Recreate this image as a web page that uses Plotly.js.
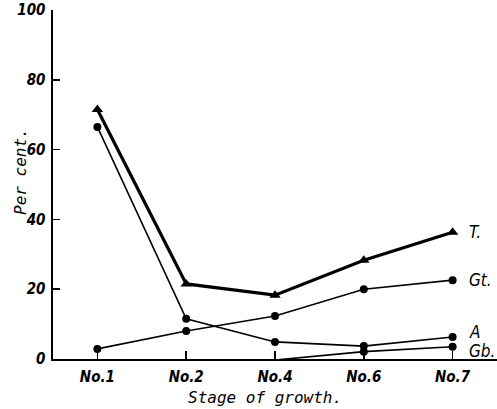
<!DOCTYPE html>
<html><head><meta charset="utf-8">
<script src="https://cdn.plot.ly/plotly-3.0.1.min.js"></script>
<style>html,body{margin:0;padding:0;background:#fff;}#c{width:497px;height:409px;}</style>
</head><body><div id="c"></div>
<script>
const stages = ["No.1", "No.2", "No.4", "No.6", "No.7"];
const T  = [71.5, 21.5, 18.3, 28.3, 36.3];
const Gt = [2.9, 8.0, 12.3, 20.0, 22.6];
const A  = [66.5, 11.5, 4.9, 3.7, 6.3];
const Gb = [null, null, -0.3, 2.1, 3.5];
const seriesLabels = ["T.", "Gt.", "A", "Gb."];
const yTicks = [0, 20, 40, 60, 80, 100];
const xTitle = "Stage of growth.";
const yTitle = "Per cent.";

const tickFont = {family: "Liberation Sans Narrow, DejaVu Sans Condensed, Liberation Sans", size: 15, color: "#000", style: "italic", weight: "bold"};
const titleFont = {family: "DejaVu Sans Mono, Liberation Mono", size: 16, color: "#000", style: "italic"};

const traces = [
  {x: stages, y: T, mode: "lines+markers", line: {color: "#000", width: 3.2}, marker: {symbol: "triangle-up", size: 10, color: "#000", opacity: 1}},
  {x: stages, y: Gt, mode: "lines+markers", line: {color: "#000", width: 1.6}, marker: {symbol: "circle", size: 8, color: "#000", opacity: 1}},
  {x: stages, y: A, mode: "lines+markers", line: {color: "#000", width: 1.6}, marker: {symbol: "circle", size: 8, color: "#000", opacity: 1}},
  {x: stages, y: Gb, mode: "lines+markers", line: {color: "#000", width: 1.6}, marker: {symbol: "circle", size: [0, 0, 0, 8, 8], color: "#000", opacity: 1, line: {width: 0}}, cliponaxis: false}
];

const lastVals = [T[4], Gt[4], A[4], Gb[4]];
const labelShiftY = [0, 0, 5, -4];
const annotations = seriesLabels.map((s, i) => ({
  x: stages[4], y: lastVals[i], xref: "x", yref: "y", text: s, showarrow: false,
  xanchor: "left", yanchor: "middle", xshift: 14, yshift: labelShiftY[i],
  font: {family: "Liberation Sans Narrow, DejaVu Sans Condensed, Liberation Sans", size: 17, color: "#000", style: "italic"}
}));
// axis titles placed as annotations (paper coords) to match the reference positions
annotations.push({
  text: yTitle, xref: "paper", yref: "paper", x: -33 / 444, y: (359 - 172) / 349,
  xanchor: "center", yanchor: "middle", textangle: -90, showarrow: false, font: titleFont
});
annotations.push({
  text: xTitle, xref: "paper", yref: "paper", x: (265 - 53) / 444, y: -(397 - 359) / 349,
  xanchor: "center", yanchor: "middle", showarrow: false, font: titleFont
});

const layout = {
  width: 497, height: 409,
  margin: {l: 53, r: 0, t: 10, b: 50},
  paper_bgcolor: "#fff", plot_bgcolor: "#fff",
  showlegend: false,
  xaxis: {
    type: "category", range: [-0.5, 4.5], showgrid: false, zeroline: false,
    showline: true, linecolor: "#000", linewidth: 2,
    ticks: "inside", ticklen: 8, tickwidth: 1.5, tickcolor: "#000",
    tickfont: tickFont, ticklabelstandoff: 3
  },
  yaxis: {
    range: [0, 100], tickvals: yTicks, showgrid: false, zeroline: false,
    showline: true, linecolor: "#000", linewidth: 2.5,
    ticks: "inside", ticklen: 7, tickwidth: 1.5, tickcolor: "#000",
    tickfont: tickFont, ticklabelstandoff: 2
  },
  annotations: annotations
};

Plotly.newPlot("c", traces, layout, {displayModeBar: false, staticPlot: true});
</script>
</body></html>
